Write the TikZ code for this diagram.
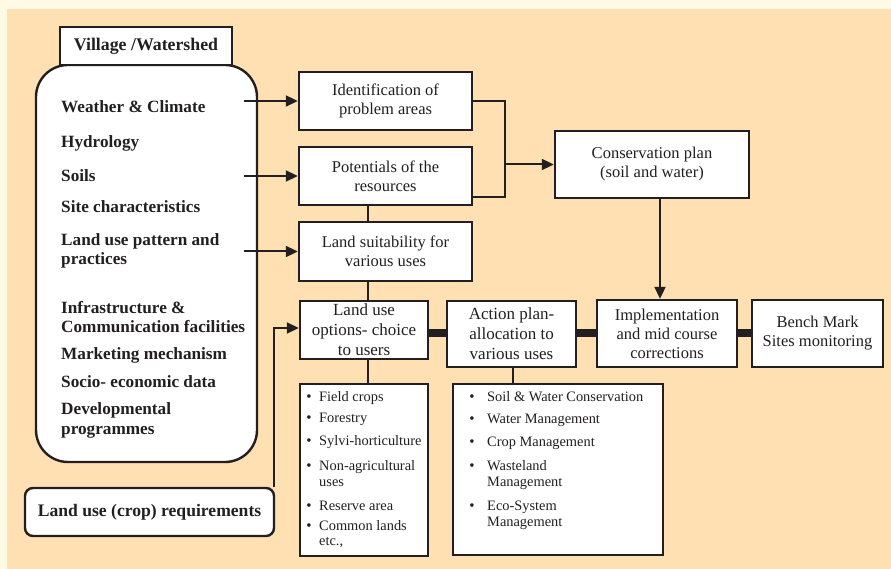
\documentclass[tikz,border=0pt]{standalone}
\usepackage{fontspec}
\setmainfont{Liberation Serif}
\usetikzlibrary{arrows.meta}
\definecolor{ink}{HTML}{231F20}
\definecolor{outerbg}{HTML}{FFFAE6}
\definecolor{peach}{HTML}{FFE0B2}
\tikzset{
  box/.style={draw=ink, line width=2.4pt, fill=white, text=ink, align=center, inner sep=0pt,
    font=\fontsize{16.5}{19}\selectfont},
  conn/.style={draw=ink, line width=2pt},
  arr/.style={conn, -{Triangle[length=12pt,width=11pt]}},
  heavy/.style={draw=ink, line width=8pt},
  lefttxt/.style={anchor=base west, text=ink, inner sep=0pt, font=\bfseries\fontsize{17.2}{19}\selectfont},
  item/.style={anchor=base west, text=ink, inner sep=0pt, font=\fontsize{14.4}{16}\selectfont},
  bul/.style={anchor=base, text=ink, inner sep=0pt, font=\fontsize{15}{16}\selectfont},
}
\begin{document}
\begin{tikzpicture}[x=1pt,y=-1pt]
\useasboundingbox (0,0) rectangle (891,569);
\fill[outerbg] (0,0) rectangle (891,569);
\fill[peach] (7,9) rectangle (891,569);

% left side
\node[box, rounded corners=32pt, minimum width=221pt, minimum height=397pt] (big) at (146.5,263.5) {};
\node[box, minimum width=172pt, minimum height=38pt, font=\bfseries\fontsize{17.8}{19}\selectfont] (village) at (146,46) {Village /Watershed};

\node[lefttxt] (l1) at (61,112.7) {Weather \& Climate};
\node[lefttxt] (l2) at (61,148) {Hydrology};
\node[lefttxt] (l3) at (61,182) {Soils};
\node[lefttxt] (l4) at (61,213) {Site characteristics};
\node[lefttxt] (l5) at (61,246) {Land use pattern and};
\node[lefttxt] (l6) at (61,265) {practices};
\node[lefttxt] (l7) at (61,313) {Infrastructure \&};
\node[lefttxt] (l8) at (61,332) {Communication facilities};
\node[lefttxt] (l9) at (61,359) {Marketing mechanism};
\node[lefttxt] (l10) at (61,387) {Socio- economic data};
\node[lefttxt] (l11) at (61,414) {Developmental};
\node[lefttxt] (l12) at (61,434) {programmes};

\node[box, rounded corners=8pt, minimum width=249pt, minimum height=48pt, font=\bfseries\fontsize{17.6}{19}\selectfont] (req) at (149.5,512) {Land use (crop) requirements};

% middle boxes
\node[box, minimum width=173pt, minimum height=58pt] (ident) at (385.5,101) {Identification of\\problem areas};
\node[box, minimum width=173pt, minimum height=58pt] (pot) at (385.5,176) {Potentials of the\\resources};
\node[box, minimum width=173pt, minimum height=59pt] (suit) at (385.5,251.5) {Land suitability for\\various uses};
\node[box, minimum width=194pt, minimum height=67pt] (cons) at (652,164.5) {Conservation plan\\(soil and water)};
\node[box, minimum width=128pt, minimum height=58pt, font=\fontsize{17}{20}\selectfont] (lopt) at (364,330) {Land use\\options- choice\\to users};
\node[box, minimum width=129pt, minimum height=66pt, font=\fontsize{17}{20}\selectfont] (act) at (511.5,334) {Action plan-\\allocation to\\various uses};
\node[box, minimum width=140pt, minimum height=67pt] (impl) at (667,333.5) {Implementation\\and mid course\\corrections};
\node[box, minimum width=131pt, minimum height=67pt] (bench) at (817.5,333.5) {Bench Mark\\Sites monitoring};

% list boxes
\node[box, minimum width=128pt, minimum height=172pt] (flist) at (364,470) {};
\node[box, minimum width=210pt, minimum height=171pt] (alist) at (558,469.5) {};

\node[bul] (fb1) at (309,401.7) {\textbullet};
\node[item] (f1) at (319,401.7) {Field crops};
\node[bul] (fb2) at (309,422.7) {\textbullet};
\node[item] (f2) at (319,422.7) {Forestry};
\node[bul] (fb3) at (309,445.7) {\textbullet};
\node[item] (f3) at (319,445.7) {Sylvi-horticulture};
\node[bul] (fb4) at (309,470) {\textbullet};
\node[item] (f4) at (319,470) {Non-agricultural};
\node[item] (f4b) at (319,486) {uses};
\node[bul] (fb5) at (309,510) {\textbullet};
\node[item] (f5) at (319,510) {Reserve area};
\node[bul] (fb6) at (309,530) {\textbullet};
\node[item] (f6) at (319,530) {Common lands};
\node[item] (f6b) at (319,545.7) {etc.,};

\node[bul] (ab1) at (472,401.7) {\textbullet};
\node[item] (a1) at (487,401.7) {Soil \& Water Conservation};
\node[bul] (ab2) at (472,423) {\textbullet};
\node[item] (a2) at (487,423) {Water Management};
\node[bul] (ab3) at (472,446) {\textbullet};
\node[item] (a3) at (487,446) {Crop Management};
\node[bul] (ab4) at (472,470.7) {\textbullet};
\node[item] (a4) at (487,470.7) {Wasteland};
\node[item] (a4b) at (487,486.7) {Management};
\node[bul] (ab5) at (472,510) {\textbullet};
\node[item] (a5) at (487,510) {Eco-System};
\node[item] (a5b) at (487,526.7) {Management};

% helper coordinates
\coordinate (vA) at (368,0);
\coordinate (vB) at (513,0);
\coordinate (vC) at (660,0);
\coordinate (hT) at (0,333);
\coordinate (jn) at (505,164.5);

% arrows from left box
\draw[arr] ([xshift=-14pt]big.east |- ident.west) -- (ident.west);
\draw[arr] ([xshift=-14pt]big.east |- pot.west) -- (pot.west);
\draw[arr] ([xshift=-14pt]big.east |- suit.west) -- (suit.west);

% requirements to land use options
\draw[arr] ([xshift=-1pt]req.north east) |- ([yshift=2pt]lopt.west);

% ident/pot to conservation
\draw[conn] (ident.east) -| (jn) |- ([yshift=-21pt]pot.east);
\draw[arr] (jn) -- (cons.west);

% vertical links
\draw[conn] (pot.south -| vA) -- (suit.north -| vA);
\draw[conn] (suit.south -| vA) -- (lopt.north -| vA);
\draw[conn] (lopt.south -| vA) -- (flist.north -| vA);
\draw[conn] (act.south -| vB) -- (alist.north -| vB);
\draw[arr] (cons.south -| vC) -- (impl.north -| vC);

% heavy links
\draw[heavy] (lopt.east |- hT) -- (act.west |- hT);
\draw[heavy] (act.east |- hT) -- (impl.west |- hT);
\draw[heavy] (impl.east |- hT) -- (bench.west |- hT);
\end{tikzpicture}
\end{document}
